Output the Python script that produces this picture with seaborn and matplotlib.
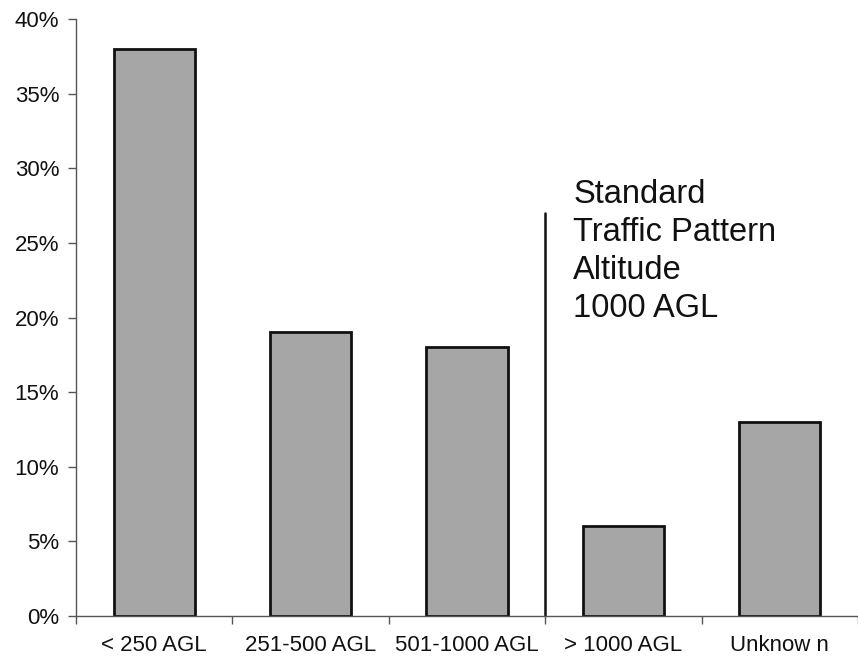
import matplotlib
matplotlib.use("Agg")
import matplotlib.pyplot as plt
import seaborn as sns
import pandas as pd
from matplotlib.ticker import FixedLocator, PercentFormatter

categories = ["< 250 AGL", "251-500 AGL", "501-1000 AGL", "> 1000 AGL", "Unknow n"]
shares = [38, 19, 18, 6, 13]
pattern_altitude_top = 27
note_lines = ["Standard", "Traffic Pattern", "Altitude", "1000 AGL"]

sns.set_theme(style="white")
plt.rcParams["font.family"] = ["Liberation Sans", "DejaVu Sans"]

df = pd.DataFrame({"category": categories, "share": shares})

fig = plt.figure(figsize=(8.58, 6.59), dpi=100)
ax = fig.add_axes([0.0886, 0.0653, 0.9114, 0.9057])

sns.barplot(data=df, x="category", y="share", ax=ax, width=0.52,
            color="#a6a6a6", saturation=1, edgecolor="#111111", linewidth=2.0)

ax.set_xlim(-0.5, len(categories) - 0.5)
ax.set_ylim(0, 40)
ax.yaxis.set_major_locator(FixedLocator(range(0, 41, 5)))
ax.yaxis.set_major_formatter(PercentFormatter(decimals=0))
ax.set_xlabel("")
ax.set_ylabel("")

# category boundary ticks below the axis
ax.xaxis.set_minor_locator(FixedLocator([i - 0.5 for i in range(len(categories) + 1)]))
ax.tick_params(axis="x", which="major", length=0, pad=14, labelsize=16, colors="#111111")
ax.tick_params(axis="x", which="minor", bottom=True, length=6, width=1, color="#555555")
ax.tick_params(axis="y", which="major", left=True, length=6, width=1, color="#555555",
               pad=6, labelsize=16, labelcolor="#111111")

for side in ("top", "right"):
    ax.spines[side].set_visible(False)
for side in ("left", "bottom"):
    ax.spines[side].set_color("#555555")
    ax.spines[side].set_linewidth(1.0)

# standard traffic pattern altitude divider
ax.plot([2.5, 2.5], [0, pattern_altitude_top], color="#111111", lw=1.8)
ax.text(2.68, 29.3, "\n".join(note_lines), fontsize=23.5, color="#111111",
        va="top", ha="left", linespacing=1.29)

fig.savefig("out.png", dpi=100)
